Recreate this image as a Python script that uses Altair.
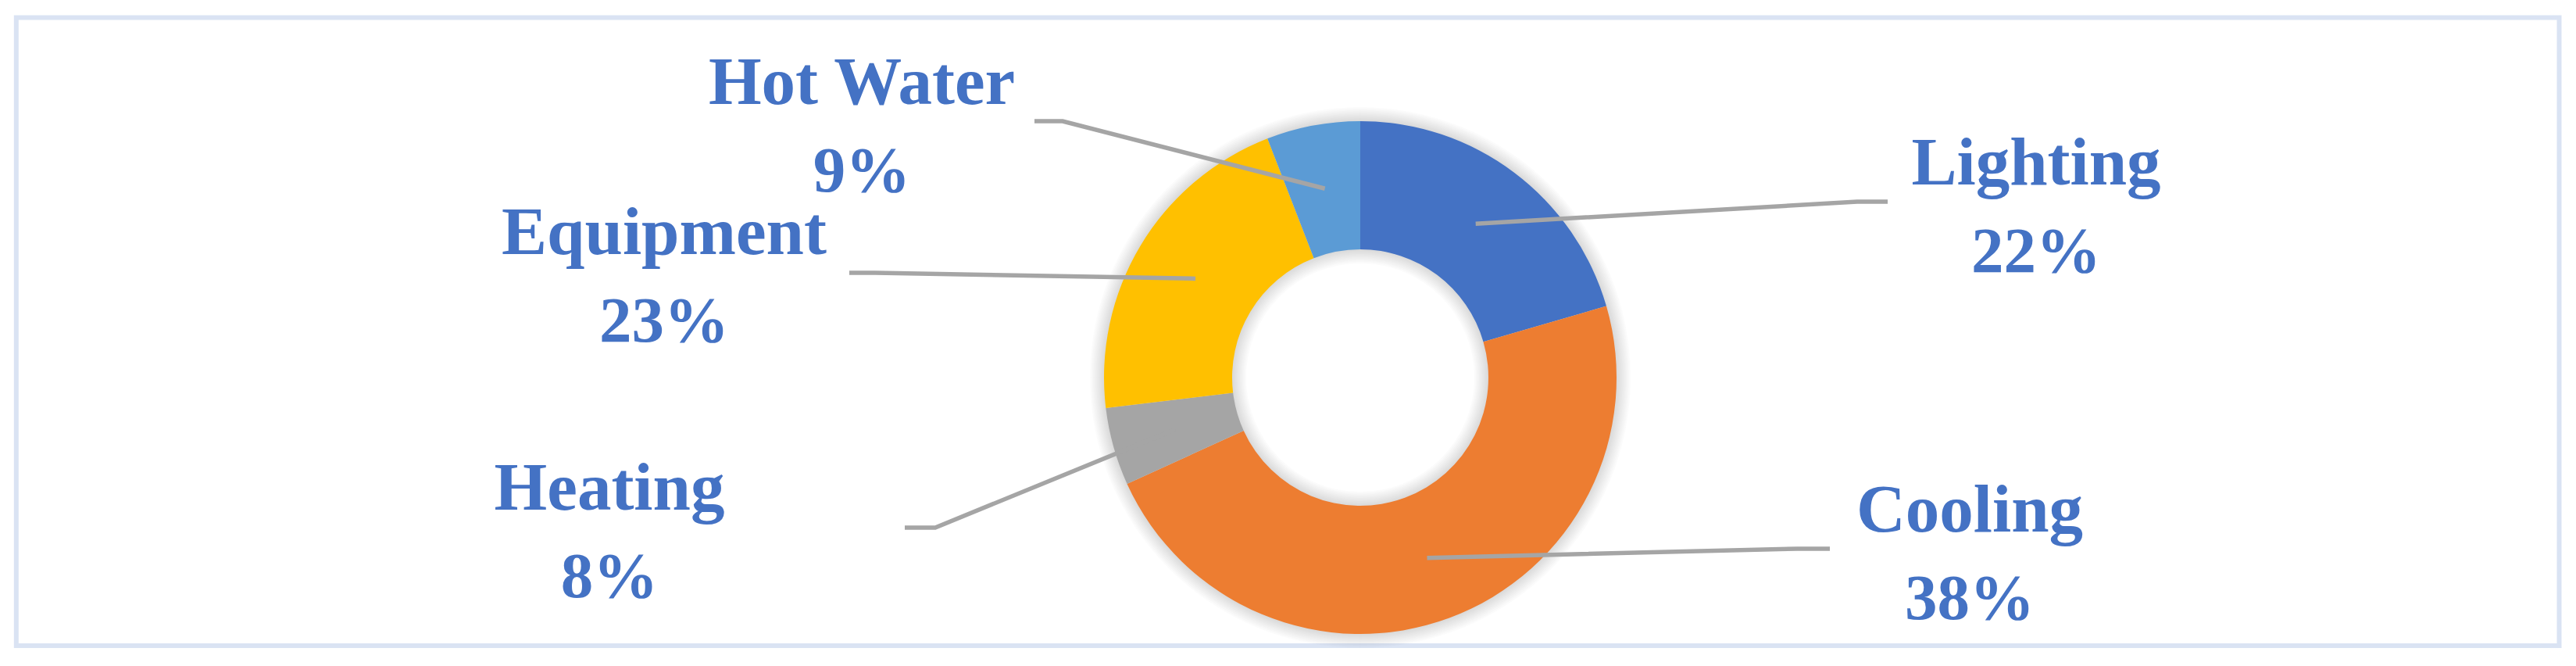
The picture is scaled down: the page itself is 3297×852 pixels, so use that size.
import math
import altair as alt
import pandas as pd

# ---- data ----
categories = ["Lighting", "Cooling", "Heating", "Equipment", "Hot Water"]
shares = [20.5, 47.7, 4.9, 21.0, 5.9]          # drawn slice sizes (%)
pct_labels = ["22%", "38%", "8%", "23%", "9%"]  # printed label text
colors = ["#4472C4", "#ED7D31", "#A5A5A5", "#FFC000", "#5B9BD5"]

# ---- layout (chart pixel coordinates) ----
W, H = 3281, 832
CX, CY = 1733, 475
R_OUT, R_IN = 328, 164
label_x = [2598, 2513, 772, 842, 1095]
label_y = [228, 672, 644, 317, 125]
line_gap = 112
elbow_x = [2369, 2292, 1189, 1112, 1352]
elbow_y = [250, 694, 667, 341, 147]
end_x = [2408, 2334, 1150, 1079, 1316]

donut = pd.DataFrame({
    "cat": categories,
    "share": shares,
    "order": list(range(len(categories))),
})

# leader lines start at the mid-ring radius at the middle angle of each slice
total = sum(shares)
rows = []
cum = 0.0
r_mid = (R_OUT + R_IN) / 2
for i, (c, s) in enumerate(zip(categories, shares)):
    mid = (cum + s / 2) / total * 2 * math.pi
    cum += s
    sx = CX + r_mid * math.sin(mid)
    sy = CY - r_mid * math.cos(mid)
    pts = [(sx, sy), (elbow_x[i], elbow_y[i]), (end_x[i], elbow_y[i])]
    for k, (px, py) in enumerate(pts):
        rows.append({"cat": c, "k": k, "px": px, "py": py})
leaders = pd.DataFrame(rows)

labels = pd.DataFrame({
    "cat": categories,
    "pct": pct_labels,
    "lx": label_x,
    "ly": label_y,
    "ly2": [v + line_gap for v in label_y],
})

# soft shadow around the ring
shadow = pd.DataFrame({
    "r": [R_OUT + 2 * i for i in range(1, 10)],
    "r2": [R_IN - 2 * i for i in range(1, 10)],
})

name_font = dict(font="Liberation Serif", fontWeight="bold", fontSize=87,
                 color="#4472C4", align="center", baseline="alphabetic")
pct_font = dict(name_font, fontSize=83)

border = alt.Chart(pd.DataFrame({"a": [0]})).mark_rect(
    fill=None, stroke="#DAE3F3", strokeWidth=6
).encode(
    x=alt.value(12.8), x2=alt.value(3267.5), y=alt.value(14.5), y2=alt.value(818)
)

shadow_layer = alt.Chart(shadow).mark_arc(
    theta=0, theta2=2 * math.pi, color="#000000", opacity=0.016
).encode(
    radius=alt.Radius("r:Q", scale=None),
    radius2=alt.Radius2("r2:Q"),
    x=alt.value(CX), y=alt.value(CY),
)

ring = alt.Chart(donut).mark_arc(radius=R_OUT, radius2=R_IN, stroke=None).encode(
    theta=alt.Theta("share:Q", stack=True),
    order=alt.Order("order:Q"),
    color=alt.Color("cat:N", scale=alt.Scale(domain=categories, range=colors), legend=None),
    x=alt.value(CX), y=alt.value(CY),
)

lines = alt.Chart(leaders).mark_line(color="#A5A5A5", strokeWidth=5.5, strokeCap="butt").encode(
    x=alt.X("px:Q", scale=None, axis=None),
    y=alt.Y("py:Q", scale=None, axis=None),
    detail="cat:N",
    order="k:Q",
)

names = alt.Chart(labels).mark_text(**name_font).encode(
    x=alt.X("lx:Q", scale=None, axis=None),
    y=alt.Y("ly:Q", scale=None, axis=None),
    text="cat:N",
)
pcts = alt.Chart(labels).mark_text(**pct_font).encode(
    x=alt.X("lx:Q", scale=None, axis=None),
    y=alt.Y("ly2:Q", scale=None, axis=None),
    text="pct:N",
)

chart = alt.layer(border, shadow_layer, ring, lines, names, pcts).properties(
    width=W, height=H, autosize=alt.AutoSizeParams(type="none"), padding=0,
    background="white",
).configure_view(stroke=None)

chart.save("out.html", embed_options={"renderer": "svg", "actions": False})
